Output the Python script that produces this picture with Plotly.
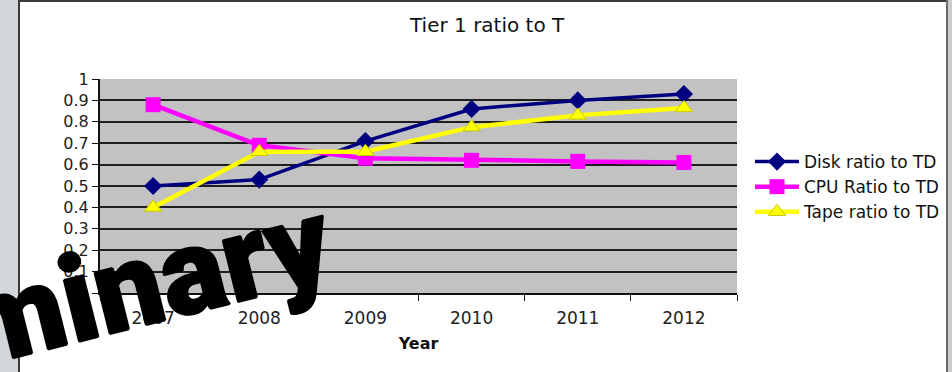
import plotly.graph_objects as go

# Ratios relative to TDR, per year
years = [2007, 2008, 2009, 2010, 2011, 2012]
disk_ratio = [0.50, 0.53, 0.71, 0.86, 0.90, 0.93]
cpu_ratio = [0.88, 0.69, 0.63, 0.62, 0.615, 0.61]
tape_ratio = [0.40, 0.66, 0.66, 0.775, 0.83, 0.865]

y_ticks = [0, 0.1, 0.2, 0.3, 0.4, 0.5, 0.6, 0.7, 0.8, 0.9, 1]
y_labels = ["0", "0.1", "0.2", "0.3", "0.4", "0.5", "0.6", "0.7", "0.8", "0.9", "1"]

W, H = 952, 372
L, R, T, B = 100, 215, 79, 79
PW, PH = W - L - R, H - T - B


def px_x(px):
    """Pixel column -> paper x."""
    return (px - L) / PW


def px_y(py):
    """Pixel row -> paper y."""
    return (H - B - py) / PH


FONT = "DejaVu Sans"

fig = go.Figure()

fig.add_trace(go.Scatter(
    x=years, y=disk_ratio, name="Disk ratio to TD",
    mode="lines+markers",
    line=dict(color="#000080", width=3.5),
    marker=dict(symbol="diamond", size=14, color="#000080"),
))
fig.add_trace(go.Scatter(
    x=years, y=cpu_ratio, name="CPU Ratio to TD",
    mode="lines+markers",
    line=dict(color="#ff00ff", width=4.5),
    marker=dict(symbol="square", size=15, color="#ff00ff"),
))
fig.add_trace(go.Scatter(
    x=years, y=tape_ratio, name="Tape ratio to TD",
    mode="lines+markers",
    line=dict(color="#ffff00", width=4.5),
    marker=dict(symbol="triangle-up", size=15, color="#ffff00",
                line=dict(color="#c8c800", width=1)),
))

shapes = [
    # slide strip on the left
    dict(type="rect", xref="paper", yref="paper", layer="below",
         x0=px_x(0), x1=px_x(18), y0=px_y(H), y1=px_y(0),
         fillcolor="#d3d6d9", line=dict(width=0)),
    # frame of the chart box
    dict(type="line", xref="paper", yref="paper",
         x0=px_x(19), x1=px_x(19), y0=px_y(H), y1=px_y(0),
         line=dict(color="#3a3a3a", width=2)),
    dict(type="line", xref="paper", yref="paper",
         x0=px_x(18), x1=px_x(W), y0=px_y(1), y1=px_y(1),
         line=dict(color="#3a3a3a", width=2)),
    dict(type="rect", xref="paper", yref="paper",
         x0=px_x(946), x1=px_x(W), y0=px_y(H), y1=px_y(0),
         fillcolor="#c9cbcd", line=dict(width=0)),
    dict(type="line", xref="paper", yref="paper",
         x0=px_x(947), x1=px_x(947), y0=px_y(H), y1=px_y(0),
         line=dict(color="#6a6a6a", width=2)),
]

# outline that thickens the watermark strokes
heavy = ", ".join(f"{dx}px {dy}px 0 #000"
                  for dx, dy in [(1, 0), (-1, 0), (0, 1), (0, -1)])

annotations = [
    dict(text="Tier 1 ratio to T", xref="paper", yref="paper",
         x=px_x(487), y=px_y(25), showarrow=False,
         xanchor="center", yanchor="middle",
         font=dict(family=FONT, size=20, color="#111111")),
    dict(text="minary", xref="paper", yref="paper",
         x=px_x(145), y=px_y(283), showarrow=False,
         xanchor="center", yanchor="middle", textangle=-14,
         font=dict(family="Roboto", size=120,
                   color="#000000", weight=900, shadow=heavy)),
]

fig.update_layout(
    width=W, height=H,
    margin=dict(l=L, r=R, t=T, b=B, autoexpand=False),
    paper_bgcolor="#ffffff",
    plot_bgcolor="#c2c2c2",
    showlegend=True,
    legend=dict(x=px_x(750), y=px_y(144), xanchor="left", yanchor="top",
                font=dict(family=FONT, size=17, color="#111111"),
                itemwidth=44,
                bgcolor="rgba(0,0,0,0)", tracegroupgap=0),
    shapes=shapes,
    annotations=annotations,
)

fig.update_xaxes(
    range=[2006.5, 2012.5],
    tickvals=years, ticktext=[str(y) for y in years],
    ticks="", showgrid=False, zeroline=False,
    showline=True, linecolor="#111111", linewidth=2,
    minor=dict(dtick=1, tick0=2006.5, ticks="outside", ticklen=6,
               tickcolor="#111111", tickwidth=1, showgrid=False),
    ticklabelstandoff=9,
    tickfont=dict(family=FONT, size=17, color="#222222"),
    title=dict(text="<b>Year</b>", standoff=10,
               font=dict(family=FONT, size=16, color="#111111")),
)
fig.update_yaxes(
    range=[0, 1],
    tickvals=y_ticks, ticktext=y_labels,
    ticks="outside", ticklen=6, tickcolor="#111111", tickwidth=1,
    showgrid=True, gridcolor="#1e1e1e", gridwidth=1.8,
    zeroline=False,
    showline=True, linecolor="#111111", linewidth=2,
    tickfont=dict(family=FONT, size=16, color="#222222"),
)

fig.write_html("out.html")
